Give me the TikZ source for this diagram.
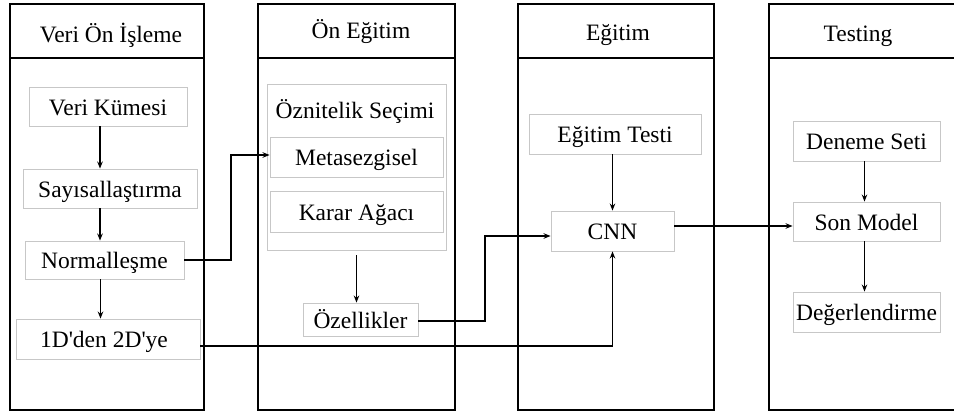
\documentclass[tikz,border=0pt]{standalone}
\usepackage{fontspec}
\setmainfont{Liberation Serif}
\usetikzlibrary{arrows.meta}
\begin{document}
\begin{tikzpicture}[x=1pt,y=-1pt,
  every node/.style={font=\fontsize{23.5}{28}\selectfont, inner sep=0pt},
  colbox/.style={draw=black, line width=2.6pt},
  gbox/.style={draw=black!22, line width=0.9pt, text height=17pt, text depth=0pt},
  grp/.style={draw=black!22, line width=0.9pt},
  hdr/.style={text height=17pt, text depth=0pt},
  arr/.style={line width=1.2pt, -{Stealth[length=7pt,width=5.5pt]}},
  conn/.style={line width=1.5pt, -{Stealth[length=7pt,width=5.5pt]}}
]
\useasboundingbox (0,0) rectangle (954,412);
\clip (0,0) rectangle (954,412);
\fill[white] (0,0) rectangle (954,412);

% columns
\draw[colbox] (10,4) rectangle (204,410);
\draw[colbox] (10,58) -- (204,58);
\draw[colbox] (258,4) rectangle (455,410);
\draw[colbox] (258,58) -- (455,58);
\draw[colbox] (518,4) rectangle (714,410);
\draw[colbox] (518,58) -- (714,58);
\draw[colbox] (769,4) rectangle (968,410);
\draw[colbox] (769,58) -- (968,58);

% headers
\node[hdr] (h1) at (111,34.5) {Veri Ön İşleme};
\node[hdr] (h2) at (361,30) {Ön Eğitim};
\node[hdr] (h3) at (618,32) {Eğitim};
\node[hdr] (h4) at (858,33) {Testing};

% column 1
\node[gbox, minimum width=158, minimum height=39] (vk) at (108,106.5) {Veri Kümesi};
\node[gbox, minimum width=174, minimum height=39] (say) at (110,188.5) {Sayısallaştırma};
\node[gbox, minimum width=159, minimum height=38] (norm) at (104.5,260) {Normalleşme};
\node[gbox, minimum width=184, minimum height=40] (d12) at (108,339) {\hspace*{-8pt}1D\textquotesingle den 2D\textquotesingle ye};

\draw[arr] ([xshift=-8]vk.south) -- ([xshift=-8]vk.south |- say.north);
\draw[arr] ([xshift=-10]say.south) -- ([xshift=-10]say.south |- norm.north);
\draw[arr] ([xshift=-4]norm.south) -- ([xshift=-4]norm.south |- d12.north);

% column 2
\node[grp, minimum width=179, minimum height=166] (gp) at (356.5,167) {};
\node[hdr] (oz) at (355,110) {Öznitelik Seçimi};
\node[gbox, minimum width=173, minimum height=40] (meta) at (356.5,157) {Metasezgisel};
\node[gbox, minimum width=173, minimum height=41] (karar) at (356.5,211.5) {Karar Ağacı};
\node[gbox, minimum width=115, minimum height=33] (ozel) at (360.5,319.5) {Özellikler};

\draw[arr] ([yshift=-5]gp.south) -- (gp.south |- ozel.north);

% column 3
\node[gbox, minimum width=172, minimum height=40] (et) at (615,134) {Eğitim Testi};
\node[gbox, minimum width=123, minimum height=40] (cnn) at (612.5,231) {CNN};
\draw[arr] (et.south -| cnn.north) -- (cnn.north);

% column 4
\node[gbox, minimum width=147, minimum height=40] (ds) at (866.5,141) {Deneme Seti};
\node[gbox, minimum width=147, minimum height=39] (son) at (866.5,221.5) {Son Model};
\node[gbox, minimum width=147, minimum height=40] (deg) at (866.5,312) {Değerlendirme};
\draw[arr] ([xshift=-2]ds.south) -- ([xshift=-2]ds.south |- son.north);
\draw[arr] ([xshift=-2]son.south) -- ([xshift=-2]son.south |- deg.north);

% connectors
\coordinate (j1) at (231,260);
\draw[conn] (norm.east) -- (j1) |- ([yshift=2]meta.west);
\coordinate (j2) at (485,321);
\draw[conn] ([yshift=-1.5]ozel.east) -- (j2) |- ([yshift=-5]cnn.west);
\draw[conn] ([yshift=-7]d12.east) -| (cnn.south);
\draw[conn] ([yshift=5]cnn.east) -- ([yshift=5]cnn.east -| son.west);
\end{tikzpicture}
\end{document}
